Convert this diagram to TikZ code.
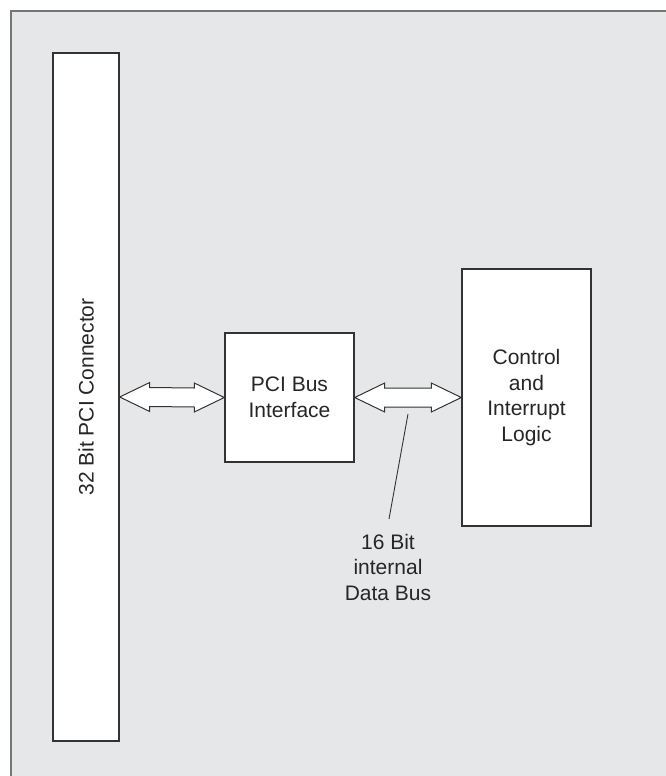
\documentclass[tikz,border=0pt]{standalone}
\usepackage{fontspec}
\setmainfont{Liberation Sans}
\usetikzlibrary{calc}
\definecolor{bggrey}{HTML}{E6E7E9}
\definecolor{framegrey}{HTML}{767676}
\definecolor{boxline}{HTML}{333333}
\begin{document}
\begin{tikzpicture}[x=1pt,y=-1pt,
  blockbox/.style={draw=boxline,line width=1.4pt,fill=white,rectangle,inner sep=0pt,
    font=\fontsize{21}{25.5}\selectfont,align=center,text=black!85},
  busarrow/.style={draw=boxline,line width=1pt,fill=white,line join=miter},
  lbl/.style={font=\fontsize{21}{25.5}\selectfont,align=center,inner sep=0pt,text=black!85}]
\useasboundingbox (0,0) rectangle (666,776);
\fill[bggrey] (11,11) rectangle (666,776);
\draw[framegrey,line width=1.5pt] (11,776) -- (11,11) -- (666,11);
\node[blockbox,minimum width=66pt,minimum height=688pt] (conn) at (86,397)
  {\rotatebox{90}{32 Bit PCI Connector}};
\node[blockbox,minimum width=129pt,minimum height=129pt] (pci) at (289.5,397.5)
  {PCI Bus\\Interface};
\node[blockbox,minimum width=129pt,minimum height=257pt] (ctrl) at (526.5,397.5)
  {Control\\and\\Interrupt\\Logic};
% double arrows
\draw[busarrow] (conn.east) -- ($(conn.east)+(30,-14.5)$) -- ($(conn.east)+(30,-9.5)$)
  -- ($(pci.west)+(-30,-9.5)$) -- ($(pci.west)+(-30,-14.5)$) -- (pci.west)
  -- ($(pci.west)+(-30,14.5)$) -- ($(pci.west)+(-30,9.5)$)
  -- ($(conn.east)+(30,9.5)$) -- ($(conn.east)+(30,14.5)$) -- cycle;
\draw[busarrow] (pci.east) -- ($(pci.east)+(30,-14.5)$) -- ($(pci.east)+(30,-9.5)$)
  -- ($(ctrl.west)+(-30,-9.5)$) -- ($(ctrl.west)+(-30,-14.5)$) -- (ctrl.west)
  -- ($(ctrl.west)+(-30,14.5)$) -- ($(ctrl.west)+(-30,9.5)$)
  -- ($(pci.east)+(30,9.5)$) -- ($(pci.east)+(30,14.5)$) -- cycle;
\coordinate (busPoint) at (408,414);
\node[lbl] (busLabel) at (388,567) {16 Bit\\internal\\Data Bus};
\coordinate (leaderEnd) at (389,519);
\draw[boxline,line width=0.9pt] (busPoint) -- (leaderEnd);
\end{tikzpicture}
\end{document}
